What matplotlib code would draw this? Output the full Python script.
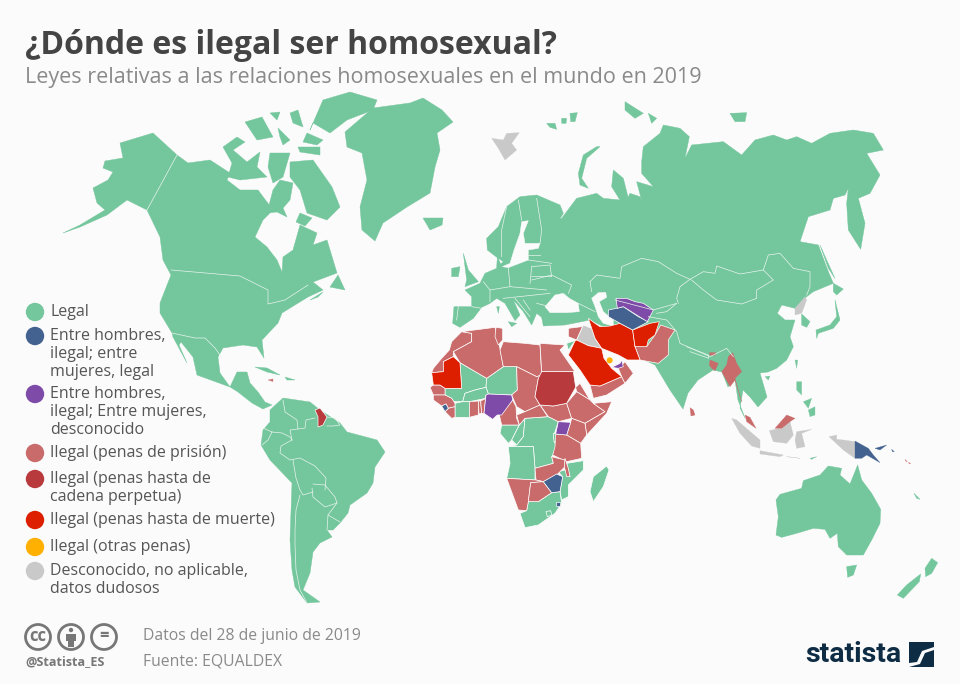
import matplotlib
matplotlib.use("Agg")
import matplotlib.pyplot as plt
from matplotlib.patches import Polygon, Circle

BG = "#fbfbfb"
LEGAL = "#74c69d"
BLUE = "#43628f"
PURPLE = "#7f4ba8"
PRISON = "#c96b6b"
LIFE = "#b93a3d"
DEATH = "#dd1f00"
OTHER = "#ffb000"
GREY = "#c9c9c9"

TITLE = "¿Dónde es ilegal ser homosexual?"
SUBTITLE = "Leyes relativas a las relaciones homosexuales en el mundo en 2019"
LEGEND_LABELS = [["Legal"],
                 ["Entre hombres,", "ilegal; entre", "mujeres, legal"],
                 ["Entre hombres,", "ilegal; Entre mujeres,", "desconocido"],
                 ["Ilegal (penas de prisión)"],
                 ["Ilegal (penas hasta de", "cadena perpetua)"],
                 ["Ilegal (penas hasta de muerte)"],
                 ["Ilegal (otras penas)"],
                 ["Desconocido, no aplicable,", "datos dudosos"]]
LEGEND_COLORS = [LEGAL, BLUE, PURPLE, PRISON, LIFE, DEATH, OTHER, GREY]


def tr(pts, x0=0, y0=0, k=3.0):        # crop coords -> picture coords
    return [(x0 + x / k, y0 + y / k) for x, y in pts]


def e(pts):  return tr(pts, 440, 90)   # eurasia crop
def a(pts):  return tr(pts, 410, 300)  # africa crop
def m(pts):  return tr(pts, 540, 280)  # middle east crop
def s(pts):  return tr(pts, 680, 340)  # south east asia crop
def o(pts):  return tr(pts, 760, 460)  # oceania crop


# ---- americas, greenland ----
ALASKA_CANADA_US = [(177,155),(153,133),(120,143),(123,158),(105,161),(103,168),(113,172),(108,180),(93,188),(97,203),
    (105,210),(80,225),(63,233),(80,227),(107,215),(127,200),(137,205),(147,210),(160,237),(163,260),(171,275),(160,303),
    (160,313),(172,333),(173,337),(187,363),(179,345),(181,342),(193,357),(197,375),(230,387),(238,392),(252,403),(263,409),(272,405),
    (265,402),(258,392),(250,383),(247,372),(237,372),(230,387),(220,373),(218,357),(223,348),(243,345),(257,347),(264,358),
    (262,340),(278,323),(282,313),(308,297),(323,290),(313,282),(337,273),(327,240),(313,245),(317,233),(300,225),(293,250),
    (283,257),(282,272),(277,260),(267,247),(255,237),(263,220),(273,210),(258,190),(240,190),(227,180),(230,173),(210,160),(188,163)]
CANADA_ISLANDS = [
    [(290,162),(313,160),(332,187),(340,207),(327,220),(307,213),(300,190),(290,177)],
    [(223,147),(237,137),(245,142),(233,150),(247,162),(260,152),(257,167),(267,177),(240,180),(228,177),(232,163)],
    [(270,153),(290,153),(283,177),(273,183),(268,167)],
    [(310,130),(323,100),(350,92),(377,100),(373,110),(347,120),(330,133),(313,123)],
    [(245,122),(262,117),(273,137),(257,140)],
    [(290,113),(298,110),(303,127),(293,123)],
    [(270,113),(280,112),(277,120)],
    [(298,147),(320,147),(320,155),(300,152)],
    [(307,133),(323,140),(317,145),(303,142)],
    [(278,128),(290,140),(283,145),(280,137)],
    [(267,213),(273,190),(280,180),(293,183),(290,200),(283,208),(287,217),(277,212)],
    [(300,213),(312,218),(305,226),(296,222)],
    [(330,287),(338,275),(345,290)],
    [(310,300),(323,292),(318,297)],
    [(255,367),(267,368),(280,375),(267,372)],
    [(285,377),(295,380),(287,380)]]
GREENLAND = [(345,132),(373,108),(410,103),(423,98),(442,110),(453,122),(437,133),(440,150),(435,167),(430,193),(407,207),
    (383,223),(375,241),(362,230),(360,207),(367,180),(362,153),(347,147)]
ICELAND = [(423,218),(443,218),(442,225),(430,230)]
SOUTH_AMERICA = [(270,410),(283,398),(310,402),(320,410),(340,423),(347,432),(377,440),(385,452),(375,467),(373,483),(367,493),
    (350,505),(348,513),(340,523),(333,530),(327,530),(332,537),(320,543),(313,552),(310,573),(303,590),(320,602),(307,603),
    (295,587),(292,570),(290,540),(292,483),(270,460),(261,445),(263,430),(270,422)]
GUYANA = [(315,410),(320,408),(327,417),(323,425),(318,427),(318,417)]
JAMAICA = [(268,380),(273,379),(273,381.5)]
AMERICA_BORDERS = [
    [(177,155),(147,210)],
    [(171,270),(240,276),(268,290),(268,304),(285,300),(308,285)],
    [(172,333),(195,338),(205,338),(215,348),(222,358)],
    [(283,400),(285,412),(297,420),(298,429),(290,430),(292,440)],
    [(298,429),(305,428),(306,420),(315,418)],
    [(327,417),(335,418),(340,425),(333,426),(327,426)],
    [(263,428),(272,432),(282,433),(290,437),(292,440)],
    [(272,432),(268,440),(262,445)],
    [(292,440),(281,446),(280,453),(290,460),(300,458),(315,466),(326,478),(325,490)],
    [(293,460),(296,478),(300,490),(303,495),(313,492)],
    [(313,484),(325,485),(335,497),(337,503),(325,507),(313,497),(312,488)],
    [(300,495),(296,510),(295,530),(295,545),(296,570),(300,590),(307,603)],
    [(337,503),(328,515),(340,522)],
    [(328,515),(327,530)]]

# ---- eurasia base: coast traced round, seas cut out after ----
EURASIA_NORTH = [(42,650),(95,650),(95,620),(75,600),(120,580),(135,550),(170,535),(172,500),(182,522),(190,515),(165,498),
    (142,480),(140,445),(175,410),(200,350),(240,320),(290,315),(360,345),(370,370),(345,410),(310,375),(340,395),(365,385),
    (395,345),(410,325),(470,310),(490,325),(540,330),(515,290),(520,240),(550,265),(565,325),(575,350),(550,352),(570,310),
    (600,320),(605,332),(590,275),(640,290),(605,250),(605,215),(610,170),(660,130),(670,105),(720,115),(748,140),(735,205),
    (755,165),(850,155),(905,195),(945,150),(1000,135),(1040,150),(1070,140),(1115,160),(1170,130),(1240,120),(1300,130),
    (1330,180),(1280,190),(1320,255),(1290,310),(1255,325),(1275,400),(1262,478),(1225,420),(1220,340),(1225,295),(1215,315),
    (1180,325),(1170,360),(1105,380),(1080,455),(1135,465),(1165,545),(1180,580),(1120,605),(1100,620),(1065,655),(1025,645),
    (1012,670),(1035,690),(1065,690),(1050,740),(1060,770),(1040,810),(1010,835)]
ASIA_SOUTH = [(768,372),(760,373),(767,397),(758,407),(750,397),(743,390),(740,408),(745,418),(738,400),(735,380),(728,387),
    (722,372),(713,370),(698,380),(688,393),(683,409),(670,390),(658,370),(655,365),(640,358),(620,335),(590,320),(565,325)]
EUROPE_SOUTH = [(310,708),(305,682),(290,670),(275,705),(250,665),(220,630),(240,675),(225,692),(195,640),(170,625),(150,640),
    (125,652),(100,685),(60,712),(38,700)]
BLACK_SEA = [(315,650),(345,615),(370,610),(388,625),(415,640),(418,665),(380,668),(330,668)]
CASPIAN = [(455,625),(475,608),(497,607),(500,622),(478,635),(490,665),(520,690),(520,708),(490,700),(475,680),(465,650)]
BALTIC = [(187,530),(210,520),(222,480),(240,430),(245,395),(265,392),(250,430),(255,460),(300,460),(295,475),(265,480),(265,510),(205,533)]
EURASIA_ISLES = [
    [(70,490),(85,540),(115,575),(75,590),(80,570)],
    [(35,535),(60,530),(55,560),(35,560)],
    [(480,170),(440,205),(425,265),(445,295),(420,285),(415,250),(430,195),(470,170)],
    [(870,70),(920,68),(915,95),(885,95)],
    [(555,35),(610,70),(585,85),(555,60)],
    [(625,70),(650,85),(635,100)],
    [(320,100),(345,100),(350,118),(330,112)],
    [(365,85),(380,85),(378,100),(365,100)],
    [(390,70),(412,68),(405,95),(392,95)],
    [(1140,465),(1160,510),(1185,565),(1165,535)],
    [(1180,580),(1210,597),(1190,615),(1180,605)],
    [(1130,745),(1128,720),(1170,705),(1190,680),(1185,630),(1200,690),(1180,715),(1135,730)],
    [(1085,672),(1110,695),(1100,712),(1085,705)],
    [(170,650),(178,650),(175,670)],
    [(205,695),(230,700),(215,710)]]
SVALBARD = [(155,145),(190,150),(200,130),(238,128),(215,160),(230,180),(195,210),(175,175)]
NORTH_KOREA = [(1065,655),(1095,620),(1100,630),(1085,670),(1065,675)]
EURASIA_BORDERS = [
    [(450,575),(470,555),(540,565),(545,530),(605,505),(655,515),(710,550),(750,568)],
    [(450,575),(455,605)],
    [(750,568),(720,590),(710,625),(715,640)],
    [(525,630),(640,660),(710,640),(680,665),(650,670)],
    [(625,680),(680,690),(710,725),(720,760),(810,800),(860,775),(880,800)],
    [(750,568),(790,545),(825,550),(830,528),(900,552),(970,540),(985,495),(1020,490),(1060,535),(1110,545),(1110,590),(1100,615)],
    [(755,570),(790,600),(830,630),(905,642),(950,625),(950,600),(1000,570),(970,540)],
    [(740,770),(805,795),(806,805),(750,785)],
    [(130,575),(150,600),(150,635)],
    [(95,650),(125,655)],
    [(55,650),(50,690)],
    [(205,535),(210,590)],
    [(275,530),(270,580)],
    [(275,530),(330,525),(335,560),(275,560)],
    [(275,570),(335,555),(395,585),(385,610)],
    [(200,350),(185,420),(185,500)],
    [(235,330),(245,390)],
    [(290,325),(305,420),(300,460)],
    [(265,510),(335,520)],
    [(260,495),(300,495)],
    [(150,600),(210,590),(320,600)],
    [(190,625),(330,610)],
    [(225,625),(270,680)],
    [(250,630),(270,660)],
    [(290,640),(330,650)],
    [(415,640),(465,665)]]

# ---- africa ----
AFRICA_LEGAL = [
    [(150,188),(230,235),(228,262),(195,270),(165,280),(158,305),(130,305),(125,295),(105,285),(105,265),(155,265)],
    [(230,235),(280,200),(320,200),(322,270),(305,285),(235,282),(228,262)],
    [(158,305),(165,280),(195,270),(228,262),(235,282),(228,295),(178,305)],
    [(135,310),(158,305),(178,305),(178,352),(135,352)],
    [(270,400),(275,375),(328,375),(305,420),(295,430)],
    [(328,375),(345,355),(340,410),(320,435),(305,420)],
    [(345,355),(415,350),(445,365),(430,410),(440,450),(425,470),(430,490),(375,505),(370,440),(295,440),(320,435),(340,410)],
    [(430,400),(445,402),(440,425),(432,425)],
    [(295,440),(370,440),(375,505),(375,540),(290,535),(300,490)],
    [(470,490),(520,482),(520,510),(475,555),(475,590),(455,600),(450,575),(458,530),(445,515),(465,510),(480,530)],
    [(355,605),(385,605),(425,578),(450,575),(455,610),(435,640),(385,675),(345,683),(330,640),(350,632)],
    [(408,635),(422,632),(425,645),(412,650)],
    [(590,498),(597,510),(580,560),(550,605),(540,575),(550,530)],
    [(532,295),(542,295),(540,305)],
    [(468,135),(480,125),(488,130),(480,150)]]
AFRICA_PRISON = [
    [(155,95),(185,100),(185,125),(130,155),(130,170),(100,185),(100,215),(65,218),(70,205),(95,175),(118,150),(125,125)],
    [(155,95),(255,82),(265,120),(280,200),(230,235),(150,188),(130,155),(185,125),(185,100)],
    [(258,82),(278,85),(278,120),(265,135),(255,110)],
    [(280,125),(345,130),(390,135),(395,225),(380,230),(320,200),(280,200),(270,150)],
    [(390,130),(465,135),(450,150),(495,215),(395,215)],
    [(320,200),(380,230),(395,225),(385,235),(375,290),(390,315),(345,335),(320,320),(305,285),(322,270)],
    [(497,262),(510,250),(540,300),(500,275)],
    [(390,315),(430,318),(470,310),(485,355),(445,365),(415,350)],
    [(470,310),(500,275),(540,300),(550,310),(585,335),(525,370),(485,355)],
    [(605,305),(590,340),(530,405),(525,370),(585,335),(550,310)],
    [(470,405),(482,367),(485,355),(525,370),(530,405),(512,430)],
    [(60,262),(70,255),(90,255),(105,265),(105,285),(70,285)],
    [(70,285),(105,285),(125,295),(135,310),(135,320),(115,325),(108,312),(95,318),(70,300)],
    [(105,335),(115,325),(135,320),(135,352),(125,355)],
    [(178,305),(205,303),(205,345),(178,352)],
    [(205,303),(212,303),(215,340),(207,342)],
    [(212,303),(228,295),(228,285),(222,340),(215,340)],
    [(308,300),(318,320),(320,355),(328,375),(275,375),(268,345)],
    [(320,345),(345,335),(390,315),(413,350),(345,355),(328,375)],
    [(437,402),(470,405),(512,430),(515,475),(470,485),(428,465),(435,440)],
    [(375,505),(430,490),(425,470),(465,480),(465,500),(440,525),(400,545),(378,540)],
    [(465,475),(475,505),(480,530),(470,530),(463,500)],
    [(290,535),(378,540),(400,545),(362,548),(355,605),(350,632),(325,630)],
    [(362,548),(400,545),(425,578),(385,605),(355,605)]]
SUDAN = [(395,215),(490,215),(497,262),(470,310),(430,318),(390,315),(375,290),(385,235)]
MAURITANIA = [(65,218),(100,215),(100,185),(130,170),(150,188),(155,265),(105,265),(90,255),(70,255)]
NIGERIA = [(228,285),(235,282),(305,285),(308,300),(275,345),(262,345),(248,358),(222,340)]
UGANDA = [(445,365),(482,367),(470,405),(437,402)]
SIERRA_LEONE = [(95,318),(108,312),(115,325),(105,335)]
ZIMBABWE = [(400,545),(440,522),(458,530),(450,575),(425,578)]
SWAZILAND = [(439,607),(449,607),(449,617),(439,617)]

# ---- middle east ----
IRAN = [(145,115),(165,130),(180,140),(210,138),(240,130),(278,150),(285,200),(300,240),(262,240),(235,225),(210,215),(185,205),(165,175),(155,145)]
AFGHANISTAN = [(278,150),(330,130),(358,125),(345,165),(325,180),(320,200),(285,200)]
SAUDI = [(105,183),(110,180),(145,197),(185,205),(192,235),(215,265),(245,290),(180,318),(150,315),(120,270),(85,225)]
PAKISTAN = [(362,135),(405,150),(385,180),(385,225),(355,250),(300,240),(285,200),(320,200),(345,165)]
SYRIA = [(85,145),(125,140),(130,135),(110,180),(85,170)]
YEMEN = [(150,315),(180,318),(245,290),(255,310),(200,345),(160,355)]
OMAN = [(255,245),(280,280),(255,310),(245,290),(235,265)]
TURKMENISTAN = [(205,90),(230,85),(250,80),(295,110),(325,125),(278,150),(240,130),(205,110)]
UZBEKISTAN = [(228,55),(260,55),(285,65),(310,70),(340,90),(322,125),(290,105),(250,80),(232,85)]
UAE = [(215,262),(240,250),(245,240),(250,260),(235,265)]
IRAQ = [(130,135),(155,145),(165,175),(185,205),(145,197),(110,180)]
JORDAN = [(80,190),(110,180),(105,183),(85,210)]
QATAR = [(209,241)]

# ---- south east asia, oceania ----
SEA_PRISON = [
    [(158,38),(170,70),(185,95),(165,115),(180,170),(185,185),(165,120),(150,140),(125,95),(140,75),(145,50)],
    [(90,60),(115,70),(105,92),(95,85),(88,75)],
    [(88,38),(108,38),(105,46),(90,46)],
    [(30,203),(40,210),(45,225),(33,228)],
    [(195,225),(210,232),(228,265),(200,245)],
    [(285,265),(320,225),(345,235),(330,245),(305,265)],
    [(675,358),(682,365),(678,364)],
    [(686,367),(692,371),(687,371)]]
SEA_GREY = [
    [(268,272),(285,268),(305,265),(330,245),(340,285),(320,310),(280,305)],
    [(155,235),(170,240),(240,300),(240,325),(215,318),(180,280)],
    [(240,332),(310,345),(300,350),(240,342)],
    [(320,350),(360,355),(340,352)],
    [(350,275),(395,268),(365,280),(375,320),(350,325),(345,300)],
    [(447,290),(470,285),(470,298),(490,300),(525,305),(525,355),(490,330)]]
SEA_BLUE = [
    [(525,303),(565,325),(580,345),(600,368),(560,345),(545,355),(525,355)],
    [(585,325),(620,315),(600,330)],
    [(635,328),(643,335),(637,335)]]
SEA_LEGAL = [
    [(350,125),(365,125),(365,165),(350,150)],
    [(385,210),(405,200),(405,225),(390,230)],
    [(370,185),(395,175),(385,205)],
    [(345,60),(353,60),(350,85)],
    [(255,110),(270,108),(265,120)],
    [(390,355),(410,350),(395,358)]]
AUSTRALIA = [(48,120),(60,103),(125,85),(130,62),(180,45),(205,18),(245,25),(240,45),(270,72),(293,15),(305,60),(335,100),(362,148),
    (360,190),(335,240),(310,285),(260,285),(235,260),(232,220),(210,235),(195,208),(160,205),(110,220),(65,232),(48,225),(55,170)]
TASMANIA = [(260,320),(290,315),(280,345),(263,352)]
NEW_ZEALAND = [[(495,325),(515,295),(533,308),(515,340),(497,350)],
               [(412,405),(440,375),(482,342),(478,365),(430,415)],
               [(462,100),(480,118),(470,115)]]

fig = plt.figure(figsize=(9.6, 6.84), dpi=100, facecolor=BG)
ax = fig.add_axes([0, 0, 1, 1])
ax.set_xlim(0, 960); ax.set_ylim(684, 0); ax.axis("off")


def land(pts, color, edge="white", lw=0.5):
    ax.add_patch(Polygon(pts, closed=True, fc=color, ec=edge, lw=lw, joinstyle="round"))


def lines(groups, lw=0.5):
    for g in groups:
        ax.plot(*zip(*g), color="#e8f5ee", lw=lw, solid_joinstyle="round")


land(ALASKA_CANADA_US, LEGAL, LEGAL, 0.3)
for p in CANADA_ISLANDS:
    land(p, LEGAL, LEGAL, 0.3)
land(GREENLAND, LEGAL, LEGAL, 0.3); land(ICELAND, LEGAL, LEGAL, 0.3)
land(SOUTH_AMERICA, LEGAL, LEGAL, 0.3)
lines(AMERICA_BORDERS)
land(GUYANA, LIFE); land(JAMAICA, PRISON, PRISON, 0.2)

land(e(EURASIA_NORTH) + ASIA_SOUTH + e(EUROPE_SOUTH), LEGAL, LEGAL, 0.3)
for sea in (BLACK_SEA, CASPIAN, BALTIC):
    land(e(sea), BG, BG, 0.3)
for p in EURASIA_ISLES:
    land(e(p), LEGAL, LEGAL, 0.3)
lines([e(b) for b in EURASIA_BORDERS])
land(e(SVALBARD), GREY, GREY, 0.2); land(e(NORTH_KOREA), GREY, GREY, 0.2)

for p in AFRICA_LEGAL:
    land(a(p), LEGAL)
for p in AFRICA_PRISON:
    land(a(p), PRISON)
land(a(SUDAN), LIFE); land(a(MAURITANIA), DEATH)
land(a(NIGERIA), PURPLE); land(a(UGANDA), PURPLE)
land(a(SIERRA_LEONE), BLUE); land(a(ZIMBABWE), BLUE); land(a(SWAZILAND), BLUE)

for p, c in [(PAKISTAN, PRISON), (SYRIA, PRISON), (YEMEN, PRISON), (OMAN, PRISON), (IRAQ, GREY), (JORDAN, LEGAL),
             (IRAN, DEATH), (AFGHANISTAN, DEATH), (SAUDI, DEATH), (TURKMENISTAN, BLUE), (UZBEKISTAN, PURPLE), (UAE, PURPLE)]:
    land(m(p), c)
ax.add_patch(Circle(m(QATAR)[0], 3, fc=OTHER, ec="none"))

for p in SEA_LEGAL:
    land(s(p), LEGAL, LEGAL, 0.2)
for p in SEA_GREY:
    land(s(p), GREY, GREY, 0.2)
for p in SEA_PRISON:
    land(s(p), PRISON, PRISON, 0.2)
for p in SEA_BLUE:
    land(s(p), BLUE, BLUE, 0.2)
land(o(AUSTRALIA), LEGAL, LEGAL, 0.3); land(o(TASMANIA), LEGAL, LEGAL, 0.3)
for p in NEW_ZEALAND:
    land(o(p), LEGAL, LEGAL, 0.3)

# ---- text ----
FONT = "Open Sans"
ax.text(25, 45, TITLE, fontsize=23, fontweight="bold", color="#444444", family=FONT, va="center")
ax.text(25, 77, SUBTITLE, fontsize=15.5, color="#8a8a8a", family=FONT, va="center")

legend_y = [312, 336, 394, 453, 479, 520, 547, 571]
for y, rows, c in zip(legend_y, LEGEND_LABELS, LEGEND_COLORS):
    ax.add_patch(Circle((35, y), 9.2, fc=c, ec="none"))
    for i, row in enumerate(rows):
        ax.text(50, y + i * 18, row, fontsize=11.5, color="#555555", family=FONT, va="center")

ax.text(143, 636, "Datos del 28 de junio de 2019", fontsize=11.3, color="#8a8a8a", family=FONT, va="center")
ax.text(143, 661, "Fuente: EQUALDEX", fontsize=11.3, color="#8a8a8a", family=FONT, va="center")
ax.text(25, 662, "@Statista_ES", fontsize=9.1, fontweight="bold", color="#777777", family=FONT, va="center")

for cx, txt in [(38, "cc"), (104, "=")]:
    ax.add_patch(Circle((cx, 637), 12.5, fc="none", ec="#777777", lw=2))
    ax.text(cx, 636, txt, fontsize=12, fontweight="bold", color="#777777", family=FONT, ha="center", va="center")
ax.add_patch(Circle((71, 637), 12.5, fc="none", ec="#777777", lw=2))
ax.add_patch(Circle((71, 630), 2.2, fc="#777777", ec="none"))
ax.add_patch(Polygon([(66, 634), (76, 634), (76, 641), (74, 641), (74, 647), (68, 647), (68, 641), (66, 641)], fc="#777777", ec="none"))

NAVY = "#0f2c45"
ax.text(853, 654, "statista", fontsize=20.5, fontweight="bold", color=NAVY, family="Roboto", ha="center", va="center")
ax.add_patch(Polygon([(909, 642), (934, 642), (934, 667), (909, 667)], fc=NAVY, ec="none"))
ax.add_patch(Polygon([(909, 663), (917, 662), (922, 651), (934, 647), (934, 650), (925, 653), (920, 664), (909, 667)], fc=BG, ec="none"))

fig.savefig("out.png", dpi=100, facecolor=BG)
